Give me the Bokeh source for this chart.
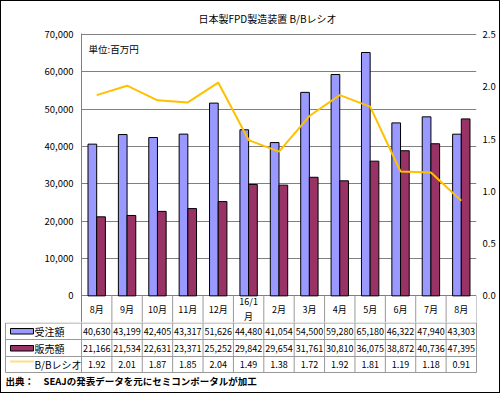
from bokeh.plotting import figure
from bokeh.layouts import column
from bokeh.models import (Range1d, LinearAxis, FixedTicker, NumeralTickFormatter,
                          ColumnDataSource, Label)
from bokeh.transform import dodge
from bokeh.core.properties import value
from bokeh.embed import file_html
from bokeh.resources import INLINE

# ---------------- data ----------------
months = ["8月", "9月", "10月", "11月", "12月", "16/1\n月", "2月", "3月", "4月",
          "5月", "6月", "7月", "8月"]
orders = [40630, 43199, 42405, 43317, 51626, 44480, 41054, 54500, 59280,
          65180, 46322, 47940, 43303]
sales = [21166, 21534, 22631, 23371, 25252, 29842, 29654, 31761, 30810,
         36075, 38872, 40736, 47395]
ratio = [1.92, 2.01, 1.87, 1.85, 2.04, 1.49, 1.38, 1.72, 1.92, 1.81,
         1.19, 1.18, 0.91]
left_ticks = [0, 10000, 20000, 30000, 40000, 50000, 60000, 70000]
right_ticks = [0.0, 0.5, 1.0, 1.5, 2.0, 2.5]
series_names = ["受注額", "販売額", "B/Bレシオ"]
title_text = "日本製FPD製造装置 B/Bレシオ"
unit_text = "単位:百万円"
source_text = "出典：　SEAJの発表データを元にセミコンポータルが加工"

# ---------------- style / layout ----------------
FONT = "Noto Sans CJK JP"
BLUE = "#9999FF"
PURPLE = "#993366"
GOLD = "#FFC000"
GRID = "#808080"
TABLE = "#999999"

n = len(months)
xs = list(range(n))

B = 1                     # outer border width (px)
TOTAL_W = 500 - 2 * B
FRAME_L = 81              # positions below are in page pixels
FRAME_R = 476
W = (FRAME_R - FRAME_L) / n
FRAME_T = 29
MAX_PX = 30
ZERO_PX = 295
SPLIT = 322               # page y where the table rows start
BOTTOM = 393 - B
span = ZERO_PX - MAX_PX
ext_lo = (SPLIT - ZERO_PX) / span
ext_hi = (MAX_PX - FRAME_T) / span
Y_MAX = left_ticks[-1]
R_MAX = right_ticks[-1]


def y_of_px(page_y):
    return -(page_y - ZERO_PX) / span * Y_MAX


src = ColumnDataSource(dict(x=xs, orders=orders, sales=sales, ratio=ratio))

top = figure(width=TOTAL_W, height=SPLIT - B, output_backend="svg", toolbar_location=None,
             x_range=Range1d(-0.5, n - 0.5),
             y_range=Range1d(-Y_MAX * ext_lo, Y_MAX * (1 + ext_hi)),
             min_border_left=FRAME_L - B, min_border_right=500 - B - FRAME_R,
             min_border_top=FRAME_T - B, min_border_bottom=0,
             x_axis_location=None, y_axis_location="left",
             title=title_text, frame_align=False)
top.outline_line_color = None
top.background_fill_color = "white"
top.border_fill_color = "white"
top.title.align = "left"
top.title.offset = 117
top.title.standoff = 15
top.title.text_font = FONT
top.title.text_font_size = "10px"
top.title.text_font_style = "normal"
top.title.text_color = "black"

ax = top.yaxis[0]
ax.ticker = FixedTicker(ticks=left_ticks)
ax.formatter = NumeralTickFormatter(format="0,0")
ax.axis_line_color = GRID
ax.major_tick_out = 0
ax.major_tick_in = 0
ax.minor_tick_line_color = None
ax.major_label_standoff = 8
ax.major_label_text_font = FONT
ax.major_label_text_font_size = "9.5px"
ax.major_label_text_color = "black"

top.extra_y_ranges = {"ratio": Range1d(-R_MAX * ext_lo, R_MAX * (1 + ext_hi))}
rax = LinearAxis(y_range_name="ratio", ticker=FixedTicker(ticks=right_ticks),
                 formatter=NumeralTickFormatter(format="0.0"))
rax.axis_line_color = None
rax.major_tick_out = 0
rax.major_tick_in = 0
rax.minor_tick_line_color = None
rax.major_label_standoff = 6
rax.major_label_text_font = FONT
rax.major_label_text_font_size = "9.5px"
rax.major_label_text_color = "black"
top.add_layout(rax, "right")

top.xgrid.visible = False
top.ygrid.ticker = FixedTicker(ticks=left_ticks)
top.ygrid.grid_line_color = GRID

top.vbar(x=dodge("x", -0.143, range=top.x_range), top="orders", width=0.286,
         fill_color=BLUE, line_color="black", line_width=1, source=src)
top.vbar(x=dodge("x", 0.143, range=top.x_range), top="sales", width=0.286,
         fill_color=PURPLE, line_color="black", line_width=1, source=src)
top.line(x="x", y="ratio", y_range_name="ratio", line_color=GOLD, line_width=2,
         source=src)

bounds = [k - 0.5 for k in range(n + 1)]
top.segment(x0=bounds, y0=[0] * len(bounds), x1=bounds,
            y1=[-Y_MAX * ext_lo] * len(bounds), line_color=TABLE, line_width=1)

# month labels (category row of the data table)
top.text(x=xs, y=[y_of_px(308.5)] * n, text=months, text_align="center",
         text_baseline="middle", text_font=value(FONT), text_font_size="9px",
         text_color="black", text_line_height=1.15)

top.add_layout(Label(x=-0.5, y=Y_MAX, x_offset=7, y_offset=-8, text=unit_text,
                     text_baseline="top", text_align="left",
                     text_font=FONT, text_font_size="9.5px", text_color="black"))

# ---------------- table rows ----------------
BOT_H = BOTTOM - SPLIT
BOT_L = 3
BOT_R = 478


def px2x(px):
    return -0.5 + (px - FRAME_L) / W


def py(page_y):
    return page_y - SPLIT


bot = figure(width=TOTAL_W, height=BOT_H, output_backend="svg", toolbar_location=None,
             x_range=Range1d(px2x(BOT_L), px2x(BOT_R)), y_range=Range1d(BOT_H, 0),
             min_border_left=BOT_L - B, min_border_right=500 - B - BOT_R,
             min_border_top=0, min_border_bottom=0,
             x_axis_location=None, y_axis_location=None, frame_align=False)
bot.outline_line_color = None
bot.background_fill_color = "white"
bot.border_fill_color = "white"
bot.grid.visible = False

ROW_Y = [py(331), py(347.5), py(364)]
HLINES = [py(322.5), py(339), py(356), py(372)]
LEG_L = px2x(5)

bot.segment(x0=bounds, y0=[0] * len(bounds), x1=bounds, y1=[HLINES[-1]] * len(bounds),
            line_color=TABLE, line_width=1)
bot.segment(x0=[LEG_L], y0=[HLINES[0]], x1=[LEG_L], y1=[HLINES[-1]],
            line_color=TABLE, line_width=1)
bot.segment(x0=[LEG_L] * 4, y0=HLINES, x1=[n - 0.5] * 4, y1=HLINES,
            line_color=TABLE, line_width=1)

rows = [[f"{v:,}" for v in orders], [f"{v:,}" for v in sales],
        [f"{v:.2f}" for v in ratio]]
for ry, vals in zip(ROW_Y, rows):
    bot.text(x=xs, y=[ry] * n, text=vals, text_align="center",
             text_baseline="middle", text_font=value(FONT), text_font_size="9px",
             text_color="black")

# legend column
sw_l, sw_r = px2x(10), px2x(33)
bot.quad(left=[sw_l], right=[sw_r], top=[py(328)], bottom=[py(333.5)],
         fill_color=BLUE, line_color="black", line_width=1)
bot.quad(left=[sw_l], right=[sw_r], top=[py(345)], bottom=[py(350.5)],
         fill_color=PURPLE, line_color="black", line_width=1)
bot.segment(x0=[sw_l], y0=[py(361)], x1=[sw_r], y1=[py(361)],
            line_color=GOLD, line_width=2, line_dash="1 1")
bot.text(x=[px2x(34)] * 3, y=ROW_Y, text=series_names, text_align="left",
         text_baseline="middle", text_font=value(FONT), text_font_size="10px",
         text_color="black")

bot.text(x=[px2x(5)], y=[py(380)], text=[source_text], text_align="left",
         text_baseline="middle", text_font=value(FONT), text_font_size="9.5px",
         text_font_style="bold", text_color="black")

layout = column(top, bot, styles={"border": f"{B}px solid black"})

open("out.html", "w").write(file_html(layout, INLINE))
